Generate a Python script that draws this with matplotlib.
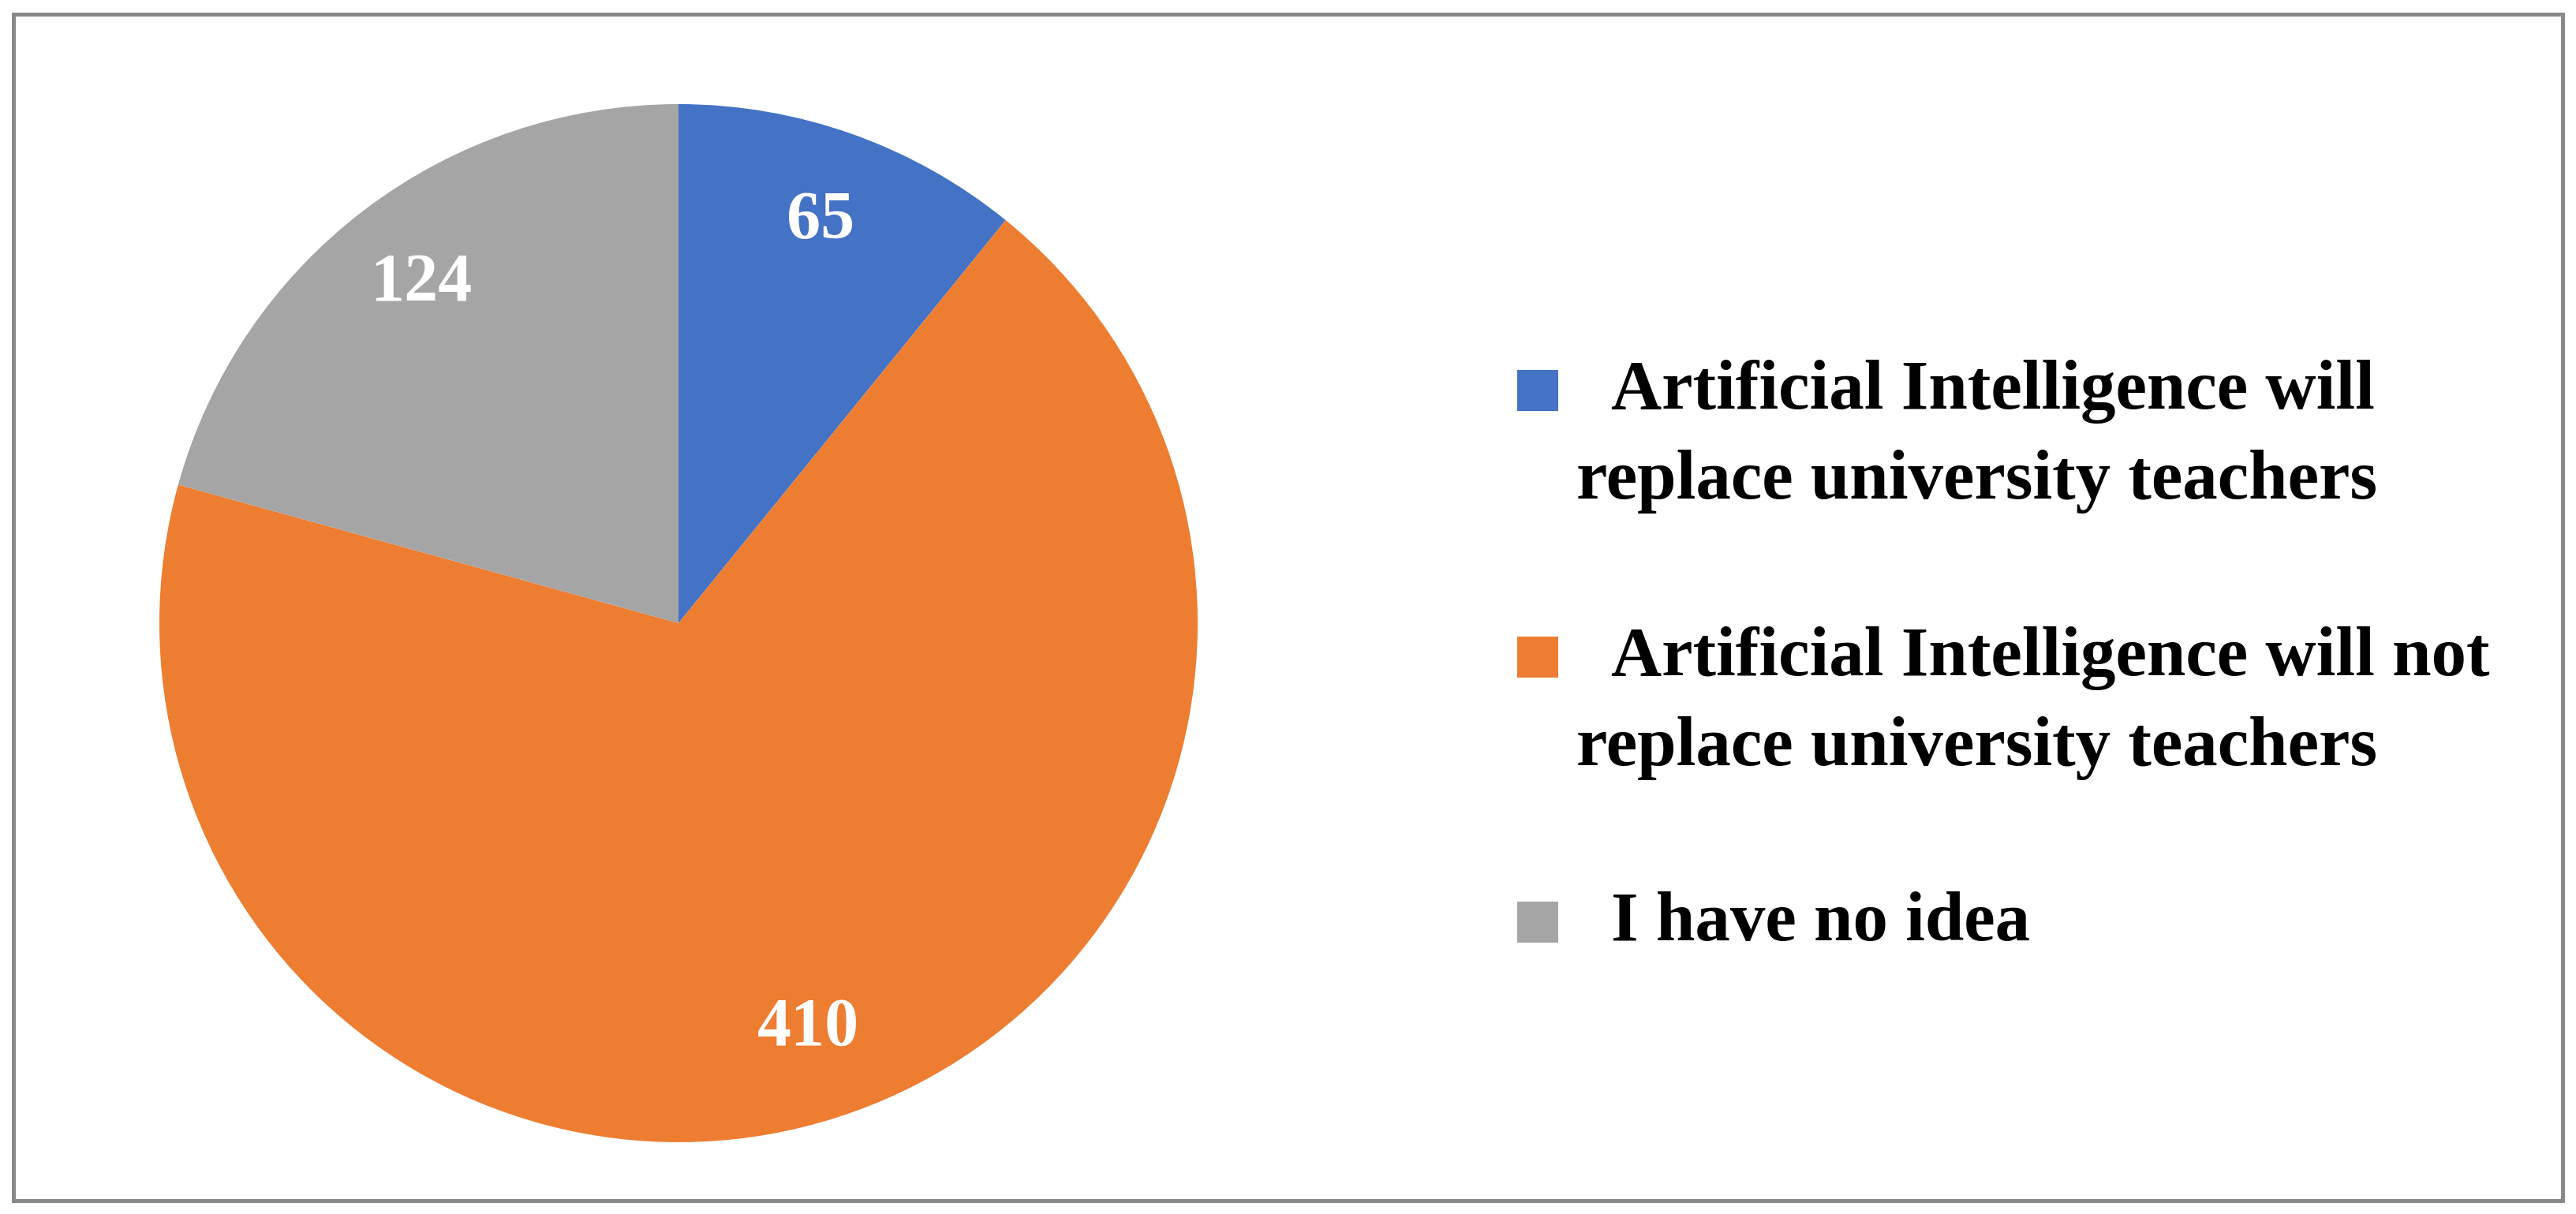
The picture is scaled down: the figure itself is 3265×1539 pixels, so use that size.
import matplotlib
matplotlib.use('Agg')
import matplotlib.pyplot as plt
from matplotlib.patches import Rectangle

plt.rcParams['font.family'] = ['Liberation Serif', 'DejaVu Serif']
plt.rcParams['font.weight'] = 'bold'

categories = [
    ['Artificial Intelligence will', 'replace university teachers'],
    ['Artificial Intelligence will not', 'replace university teachers'],
    ['I have no idea'],
]
counts = [65, 410, 124]
colors = ['#4472C4', '#ED7D31', '#A5A5A5']

W, H = 3266, 1539
fig = plt.figure(figsize=(W / 100, H / 100), dpi=100)

# full-figure overlay in pixel coords for frame + legend
bg = fig.add_axes([0, 0, 1, 1])
bg.set_xlim(0, W)
bg.set_ylim(H, 0)
bg.axis('off')
bg.add_patch(Rectangle((17.5, 17.5), W - 35, H - 35, fill=False,
                       edgecolor='#898989', linewidth=3.6))

# pie
cx, cy, r = 860, 790, 658
ax = fig.add_axes([(cx - r) / W, (H - cy - r) / H, 2 * r / W, 2 * r / H])
total = sum(counts)
wedges, _, autotexts = ax.pie(
    counts, colors=colors, startangle=90, counterclock=False, radius=1,
    autopct=lambda p: f'{round(p * total / 100)}', pctdistance=0.82,
    wedgeprops=dict(linewidth=0))
for t in autotexts:
    t.set_color('white')
    t.set_fontsize(62)
    t.set_fontweight('bold')
ax.set_xlim(-1, 1)
ax.set_ylim(-1, 1)
ax.set_aspect('equal')
ax.axis('off')

# legend, drawn by hand so the swatch sits on the first line
baselines = [518, 856, 1192]
for lines, col, base in zip(categories, colors, baselines):
    bg.add_patch(Rectangle((1923, base - 49), 52, 52, color=col, linewidth=0))
    for k, line in enumerate(lines):
        x = 2042 if k == 0 else 1998
        bg.text(x, base + k * 114, line, fontsize=64, fontweight='bold',
                ha='left', va='baseline', color='black')

fig.savefig('out.png', dpi=100, facecolor='white')
